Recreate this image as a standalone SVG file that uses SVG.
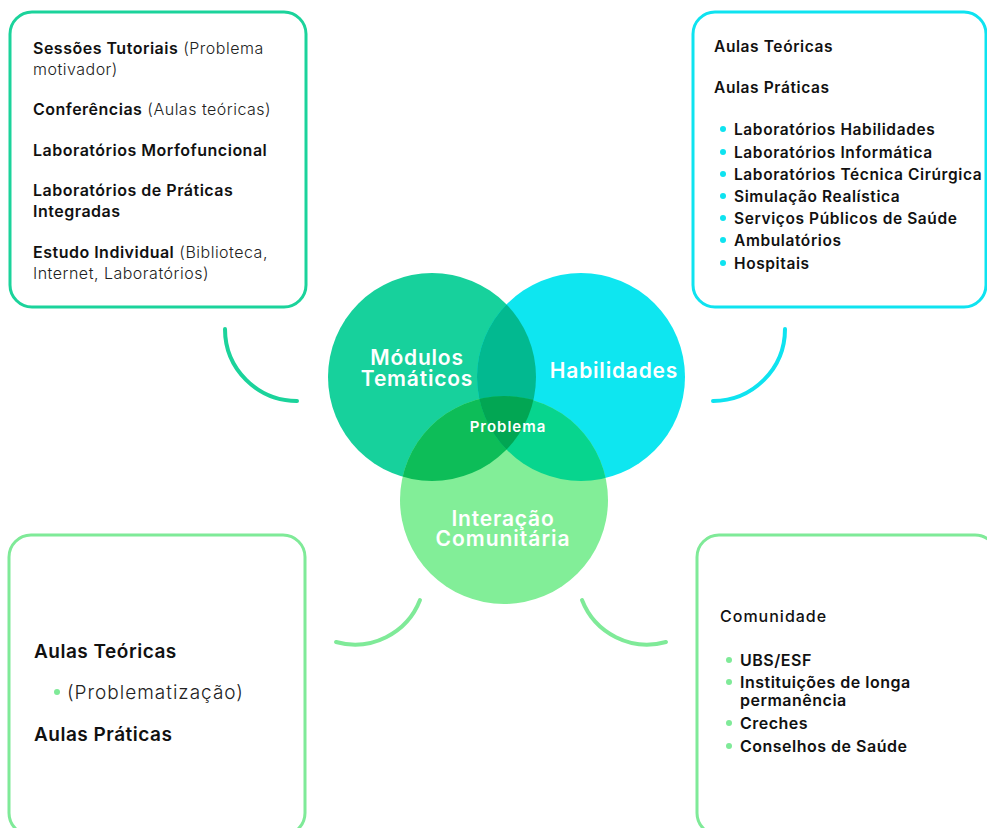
<svg xmlns="http://www.w3.org/2000/svg" width="987" height="828" viewBox="0 0 987 828">
<defs>
<clipPath id="cM"><circle cx="432" cy="377" r="104"/></clipPath>
<clipPath id="cH"><circle cx="581" cy="377" r="104"/></clipPath>
<clipPath id="cI"><circle cx="504" cy="500" r="104"/></clipPath>
</defs>
<style>
text{font-family:Inter,"Noto Sans","Liberation Sans",sans-serif;fill:#111;}
.b{font-weight:600;}
.r{font-weight:300;fill:#222;}
.box{fill:#fff;stroke-width:3;}
.arc{fill:none;stroke-width:4;stroke-linecap:round;}
.w{fill:#fff;font-weight:600;text-anchor:middle;letter-spacing:0.8px;}
.t1{font-size:16px;letter-spacing:0.5px;}
.t2{font-size:15.5px;letter-spacing:0.6px;}
.t3{font-size:19px;letter-spacing:0.5px;}
.t4{font-size:16px;letter-spacing:0.5px;}
</style>
<rect width="987" height="828" fill="#fff"/>
<g id="connectors">
<path class="arc" stroke="#1bd39b" d="M225,329 A72,72 0 0 0 297,401"/>
<path class="arc" stroke="#0ee3f0" d="M785,329 A72,72 0 0 1 713,401"/>
<path class="arc" stroke="#7fea98" d="M420,600 A70,70 0 0 1 336,642"/>
<path class="arc" stroke="#7fea98" d="M582,600 A70,70 0 0 0 666,642"/>
</g>
<g id="box-modulos">
<rect class="box" stroke="#1bd39b" x="10" y="12" width="296" height="295" rx="22"/>
<text class="t1" x="33" y="54"><tspan class="b">Sessões Tutoriais</tspan><tspan class="r"> (Problema</tspan></text>
<text class="t1 r" x="33" y="75">motivador)</text>
<text class="t1" x="33" y="115"><tspan class="b">Conferências</tspan><tspan class="r"> (Aulas teóricas)</tspan></text>
<text class="t1 b" x="33" y="156">Laboratórios Morfofuncional</text>
<text class="t1 b" x="33" y="196">Laboratórios de Práticas</text>
<text class="t1 b" x="33" y="217">Integradas</text>
<text class="t1" x="33" y="258"><tspan class="b">Estudo Individual</tspan><tspan class="r"> (Biblioteca,</tspan></text>
<text class="t1 r" x="33" y="279">Internet, Laboratórios)</text>
</g>
<g id="box-habilidades">
<rect class="box" stroke="#0ee3f0" x="693" y="12" width="293" height="295" rx="22"/>
<text class="t2 b" x="714" y="52">Aulas Teóricas</text>
<text class="t2 b" x="714" y="93">Aulas Práticas</text>
<g fill="#0ee3f0">
<circle cx="723" cy="129" r="3"/><circle cx="723" cy="152" r="3"/><circle cx="723" cy="174" r="3"/><circle cx="723" cy="196" r="3"/><circle cx="723" cy="218" r="3"/><circle cx="723" cy="240" r="3"/><circle cx="723" cy="263" r="3"/>
</g>
<text class="t2 b" x="734" y="135">Laboratórios Habilidades</text>
<text class="t2 b" x="734" y="158">Laboratórios Informática</text>
<text class="t2 b" x="734" y="180">Laboratórios Técnica Cirúrgica</text>
<text class="t2 b" x="734" y="202">Simulação Realística</text>
<text class="t2 b" x="734" y="224">Serviços Públicos de Saúde</text>
<text class="t2 b" x="734" y="246">Ambulatórios</text>
<text class="t2 b" x="734" y="269">Hospitais</text>
</g>
<g id="box-interacao-left">
<rect class="box" stroke="#7fea98" x="9" y="535" width="296" height="300" rx="22"/>
<text class="t3 b" x="34" y="658">Aulas Teóricas</text>
<circle cx="57" cy="692" r="3" fill="#7fea98"/>
<text class="t3 r" x="67" y="699" style="letter-spacing:1px">(Problematização)</text>
<text class="t3 b" x="34" y="741">Aulas Práticas</text>
</g>
<g id="box-comunidade">
<rect class="box" stroke="#7fea98" x="697" y="535" width="300" height="300" rx="22"/>
<text class="t4" x="720" y="622" style="font-weight:500;letter-spacing:1px">Comunidade</text>
<g fill="#7fea98">
<circle cx="729" cy="660" r="3"/><circle cx="729" cy="682" r="3"/><circle cx="729" cy="723" r="3"/><circle cx="729" cy="746" r="3"/>
</g>
<text class="t4 b" x="740" y="666">UBS/ESF</text>
<text class="t4 b" x="740" y="688">Instituições de longa</text>
<text class="t4 b" x="740" y="706">permanência</text>
<text class="t4 b" x="740" y="729">Creches</text>
<text class="t4 b" x="740" y="752">Conselhos de Saúde</text>
</g>
<g id="venn">
<circle cx="432" cy="377" r="104" fill="#17d19c"/>
<circle cx="581" cy="377" r="104" fill="#0ee6f0"/>
<circle cx="504" cy="500" r="104" fill="#82ee98"/>
<circle cx="581" cy="377" r="104" fill="#02b990" clip-path="url(#cM)"/>
<circle cx="504" cy="500" r="104" fill="#0dbd58" clip-path="url(#cM)"/>
<circle cx="504" cy="500" r="104" fill="#07d58e" clip-path="url(#cH)"/>
<g clip-path="url(#cM)"><circle cx="504" cy="500" r="104" fill="#02a653" clip-path="url(#cH)"/></g>
</g>
<g id="labels">
<text class="w" x="417" y="365" font-size="21">Módulos</text>
<text class="w" x="417" y="386" font-size="21">Temáticos</text>
<text class="w" x="614" y="378" font-size="21">Habilidades</text>
<text class="w" x="508" y="432" font-size="15" style="letter-spacing:1px">Problema</text>
<text class="w" x="503" y="526" font-size="21">Interação</text>
<text class="w" x="503" y="546" font-size="21" style="letter-spacing:1px">Comunitária</text>
</g>
</svg>
